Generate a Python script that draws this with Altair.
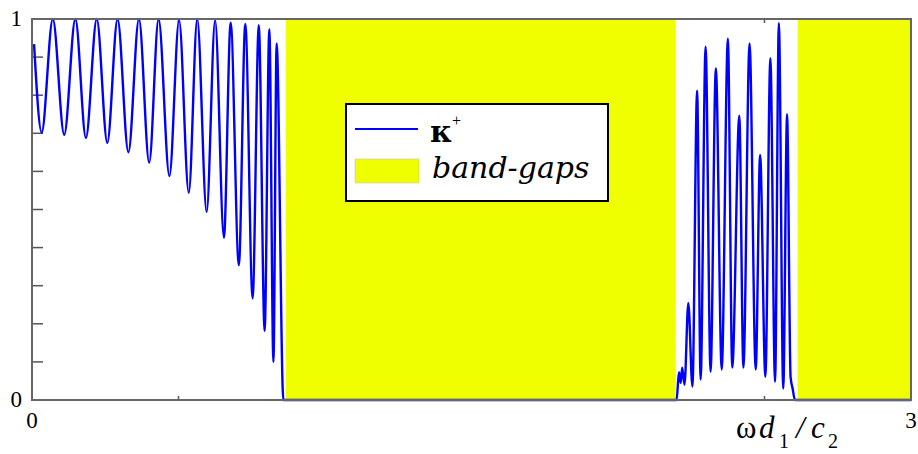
import altair as alt
import pandas as pd

# ---- data ----
x_left = [0.007, 0.033, 0.071, 0.110, 0.148, 0.184, 0.221, 0.257, 0.292, 0.329,
          0.365, 0.400, 0.432, 0.469, 0.502, 0.535, 0.564, 0.596, 0.625, 0.655,
          0.678, 0.706, 0.728, 0.753, 0.774, 0.794, 0.810, 0.824, 0.835, 0.858]
y_left = [0.934, 0.702, 1.0, 0.696, 1.0, 0.688, 1.0, 0.675, 1.0, 0.650,
          1.0, 0.623, 1.0, 0.588, 0.997, 0.544, 1.0, 0.494, 0.997, 0.426,
          0.990, 0.354, 0.987, 0.267, 0.984, 0.181, 0.973, 0.100, 0.936, 0.0]
x_right = [2.200, 2.208, 2.214, 2.219, 2.227, 2.240, 2.254, 2.270, 2.282, 2.299,
           2.316, 2.334, 2.354, 2.375, 2.390, 2.414, 2.428, 2.449, 2.470, 2.485,
           2.503, 2.520, 2.536, 2.549, 2.564, 2.577, 2.589, 2.596, 2.604, 3.0]
y_right = [0.0, 0.073, 0.045, 0.085, 0.040, 0.255, 0.035, 0.812, 0.054, 0.927,
           0.074, 0.871, 0.080, 0.948, 0.085, 0.746, 0.085, 0.936, 0.080, 0.643,
           0.061, 0.897, 0.048, 0.989, 0.030, 0.750, 0.061, 0.030, 0.0, 0.0]
gap_start = [0.866, 2.613]
gap_end = [2.197, 3.0]
y_ticks = [0.1, 0.2, 0.3, 0.4, 0.5, 0.6, 0.7, 0.8, 0.9]
x_ticks = [0.5, 1.0, 1.5, 2.0, 2.5]
x_labels = [0, 3]
y_labels = [0, 1]

W, H = 879, 381
BLUE = "#0000FF"
YELLOW = "#F0FF00"

xs = alt.Scale(domain=[0, 3], nice=False, zero=False)
ys = alt.Scale(domain=[0, 1], nice=False, zero=False)

curve_df = pd.DataFrame({"x": x_left + x_right, "y": y_left + y_right})
gaps_df = pd.DataFrame({"start": gap_start, "end": gap_end})
one = pd.DataFrame({"a": [0]})

ytick_l = alt.Chart(pd.DataFrame({"v": y_ticks})).mark_rule(color="#555", strokeWidth=1.5).encode(
    y=alt.Y("v:Q", scale=ys, axis=None), x=alt.value(0), x2=alt.value(11))
xtick_b = alt.Chart(pd.DataFrame({"v": x_ticks})).mark_rule(color="#555", strokeWidth=1.5).encode(
    x=alt.X("v:Q", scale=xs, axis=None), y=alt.value(H), y2=alt.value(H - 4))
xtick_t = alt.Chart(pd.DataFrame({"v": x_ticks})).mark_rule(color="#555", strokeWidth=1.5).encode(
    x=alt.X("v:Q", scale=xs, axis=None), y=alt.value(0), y2=alt.value(4))

xlab = alt.Chart(pd.DataFrame({"v": x_labels})).mark_text(
    font="Liberation Serif", fontSize=23, color="black", align="center", baseline="top"
).encode(x=alt.X("v:Q", scale=xs, axis=None), y=alt.value(H + 10), text=alt.Text("v:Q", format="d"))
ylab = alt.Chart(pd.DataFrame({"v": y_labels})).mark_text(
    font="Liberation Serif", fontSize=23, color="black", align="right", baseline="middle"
).encode(y=alt.Y("v:Q", scale=ys, axis=None), x=alt.value(-10), text=alt.Text("v:Q", format="d"))

gaps = alt.Chart(gaps_df).mark_rect(color=YELLOW).encode(
    x=alt.X("start:Q", scale=xs, axis=None), x2="end:Q",
    y=alt.value(0), y2=alt.value(H))

curve = alt.Chart(curve_df).mark_line(color=BLUE, strokeWidth=2.4, interpolate="monotone").encode(
    x=alt.X("x:Q", scale=xs, axis=None),
    y=alt.Y("y:Q", scale=ys, axis=None),
)

frame = alt.Chart(one).mark_rect(filled=False, stroke="#666", strokeWidth=2).encode(
    x=alt.value(0), x2=alt.value(W), y=alt.value(0), y2=alt.value(H))

leg_box = alt.Chart(one).mark_rect(fill="white", stroke="black", strokeWidth=2).encode(
    x=alt.value(314), x2=alt.value(576), y=alt.value(85), y2=alt.value(182))
leg_line = alt.Chart(one).mark_rule(color=BLUE, strokeWidth=2).encode(
    x=alt.value(323), x2=alt.value(386), y=alt.value(110))
leg_rect = alt.Chart(one).mark_rect(fill=YELLOW, stroke="#bbb", strokeWidth=0.5).encode(
    x=alt.value(323), x2=alt.value(387), y=alt.value(140), y2=alt.value(164))


def txt(s, x, y, size, font="Liberation Serif", style="normal", weight="normal"):
    return alt.Chart(one).mark_text(text=s, font=font, fontSize=size, fontStyle=style,
                                    fontWeight=weight, align="left", baseline="alphabetic",
                                    color="black").encode(x=alt.value(x), y=alt.value(y))


texts = [
    txt("κ", 398, 123, 30, font="DejaVu Serif", weight="bold"),
    txt("+", 420, 107, 16, font="Liberation Serif"),
    txt("band-gaps", 400, 159, 30, font="DejaVu Serif", style="italic"),
    txt("ω", 704, 419, 31),
    txt("d", 727, 419, 31, style="italic"),
    txt("1", 747, 429, 20),
    txt("/", 764, 419, 31, style="italic"),
    txt("c", 779, 419, 31, style="italic"),
    txt("2", 796, 429, 20),
]

chart = alt.layer(
    ytick_l, xtick_b, xtick_t, gaps, curve, frame, xlab, ylab,
    leg_box, leg_line, leg_rect, *texts
).properties(
    width=W, height=H,
    padding={"left": 32, "top": 19, "right": 7, "bottom": 54},
    autosize=alt.AutoSizeParams(type="none"),
    background="white",
).configure_view(strokeWidth=0)

chart.save("out.html", embed_options={"renderer": "svg", "actions": False})
